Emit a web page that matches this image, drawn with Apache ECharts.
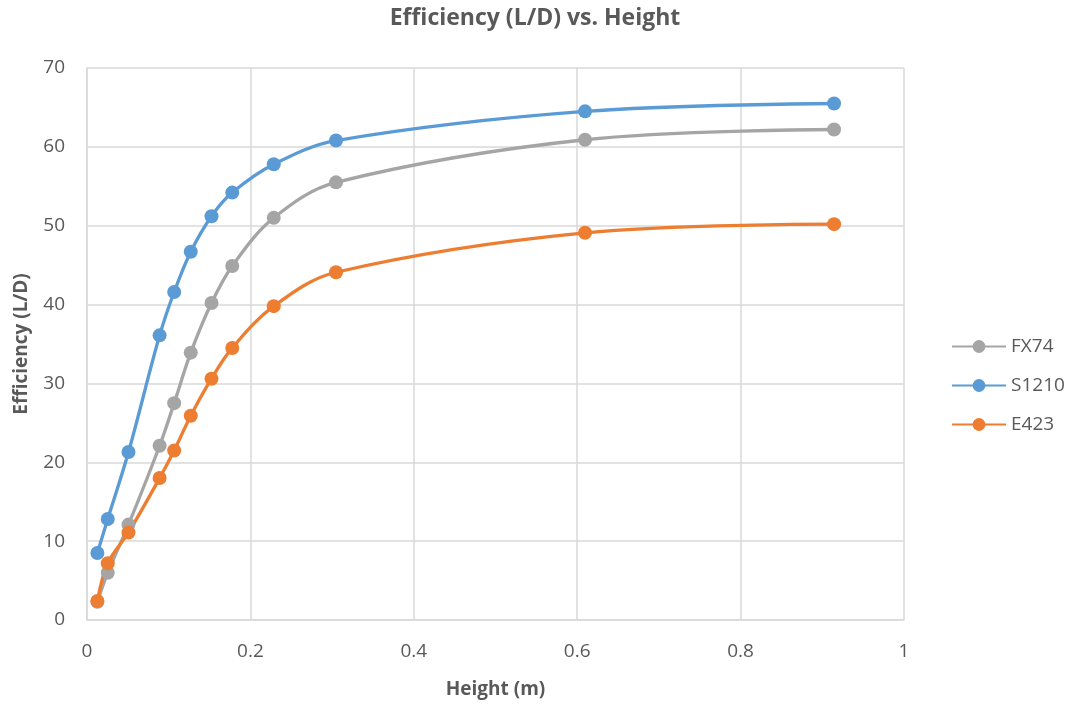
<!DOCTYPE html>
<html>
<head>
<meta charset="utf-8">
<script src="https://cdn.jsdelivr.net/npm/echarts@6/dist/echarts.min.js"></script>
<style>html,body{margin:0;padding:0;background:#fff}#c{width:1070px;height:704px}</style>
</head>
<body>
<div id="c"></div>
<script>
const heights = [0.0127, 0.0254, 0.0508, 0.0889, 0.1067, 0.127, 0.1524, 0.1778, 0.2286, 0.3048, 0.6096, 0.9144];
const fx74  = [2.3, 6.0, 12.1, 22.1, 27.5, 33.9, 40.2, 44.9, 51.0, 55.5, 60.9, 62.2];
const s1210 = [8.5, 12.8, 21.3, 36.1, 41.6, 46.7, 51.2, 54.2, 57.8, 60.8, 64.5, 65.5];
const e423  = [2.4, 7.2, 11.1, 18.0, 21.5, 25.9, 30.6, 34.5, 39.8, 44.1, 49.1, 50.2];
const seriesNames = ['FX74', 'S1210', 'E423'];
const colors = ['#A5A5A5', '#5B9BD5', '#ED7D31'];
const font = 'Open Sans';
const pair = arr => heights.map((h, i) => [h, arr[i]]);
const chart = echarts.init(document.getElementById('c'));
const mk = (name, data, color) => ({
  name, type: 'line', data: pair(data), smooth: 0.35,
  symbol: 'circle', symbolSize: 14,
  lineStyle: { width: 3.3, color }, itemStyle: { color },
  emphasis: { disabled: true }
});
chart.setOption({
  animation: false,
  title: {
    text: 'Efficiency (L/D) vs. Height', left: 'center', top: 2,
    textStyle: { fontFamily: font, fontSize: 23, fontWeight: 'bold', color: '#595959' }
  },
  grid: { left: 87, right: 166, top: 68, bottom: 84 },
  legend: {
    orient: 'vertical', left: 946, top: 332, itemGap: 20, itemWidth: 54, itemHeight: 16,
    data: seriesNames,
    textStyle: { fontFamily: font, fontSize: 19, color: '#595959' }
  },
  xAxis: {
    type: 'value', min: 0, max: 1, interval: 0.2,
    name: 'Height (m)', nameLocation: 'middle', nameGap: 60,
    nameTextStyle: { fontFamily: font, fontSize: 19, fontWeight: 'bold', color: '#595959' },
    axisLine: { show: true, lineStyle: { color: '#D9D9D9', width: 1.5 } },
    axisTick: { show: false },
    axisLabel: { fontFamily: font, fontSize: 19, color: '#595959', margin: 22 },
    splitLine: { show: true, lineStyle: { color: '#D9D9D9', width: 1.5 } }
  },
  yAxis: {
    type: 'value', min: 0, max: 70, interval: 10,
    name: 'Efficiency (L/D)', nameLocation: 'middle', nameGap: 56,
    nameTextStyle: { fontFamily: font, fontSize: 19, fontWeight: 'bold', color: '#595959' },
    axisLine: { show: true, lineStyle: { color: '#D9D9D9', width: 1.5 } },
    axisTick: { show: false },
    axisLabel: { fontFamily: font, fontSize: 19, color: '#595959', margin: 22 },
    splitLine: { show: true, lineStyle: { color: '#D9D9D9', width: 1.5 } }
  },
  series: [mk(seriesNames[0], fx74, colors[0]), mk(seriesNames[1], s1210, colors[1]), mk(seriesNames[2], e423, colors[2])]
});
</script>
</body>
</html>
